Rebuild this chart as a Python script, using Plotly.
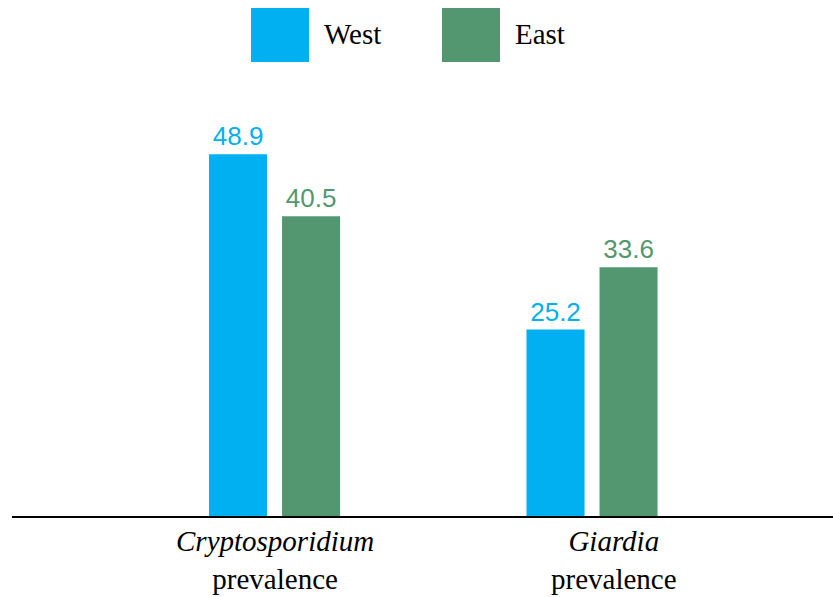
import plotly.graph_objects as go

categories = ["Cryptosporidium", "Giardia"]
cat_labels = ["<i>Cryptosporidium</i><br>prevalence", "<i>Giardia</i><br>prevalence"]
series_names = ["West", "East"]
west = [48.9, 25.2]
east = [40.5, 33.6]
colors = ["#00B0F0", "#52976F"]

SERIF = "'Liberation Serif', 'Times New Roman', 'DejaVu Serif', serif"
SANS = "'Liberation Sans', Arial, sans-serif"

W, H = 833, 597
ml, mr, mt, mb = 12, 0, 60, 81
pw, ph = W - ml - mr, H - mt - mb

xs = list(range(len(categories)))
fig = go.Figure()
for name, vals, col in zip(series_names, [west, east], colors):
    fig.add_trace(go.Bar(
        x=xs, y=vals, name=name, marker=dict(color=col, line=dict(width=0)),
        texttemplate="%{y:.1f}", textposition="outside",
        textfont=dict(family=SANS, size=26, color=col),
        cliponaxis=False, showlegend=False,
    ))

def px_x(p):
    return (p - ml) / pw

def px_y(p):
    return (H - mb - p) / ph

# custom legend (large swatches)
legend_x = [251, 442]
shapes, annotations = [], []
for name, col, lx in zip(series_names, colors, legend_x):
    shapes.append(dict(type="rect", xref="paper", yref="paper",
                       x0=px_x(lx), x1=px_x(lx + 58), y0=px_y(62), y1=px_y(8),
                       fillcolor=col, line=dict(width=0)))
    annotations.append(dict(xref="paper", yref="paper", x=px_x(lx + 71), y=px_y(34),
                            xanchor="left", yanchor="middle", showarrow=False, text=name,
                            font=dict(family=SERIF, size=29, color="black")))

label_offsets = [0.0, 0.07]
for i, (lab, off) in enumerate(zip(cat_labels, label_offsets)):
    annotations.append(dict(xref="x", yref="paper", x=i + off, y=0, yanchor="top", yshift=-7,
                            showarrow=False, text=lab, align="center",
                            font=dict(family=SERIF, size=29, color="black")))

fig.update_layout(
    width=W, height=H, margin=dict(l=ml, r=mr, t=mt, b=mb),
    paper_bgcolor="white", plot_bgcolor="white",
    barmode="group", bargap=0.54, bargroupgap=0.205,
    shapes=shapes, annotations=annotations,
    xaxis=dict(range=[-0.827, 1.759], showline=True, linecolor="black", linewidth=2,
               showticklabels=False, ticks="", showgrid=False, zeroline=False),
    yaxis=dict(range=[0, ph / 7.4], visible=False, showgrid=False, zeroline=False),
)
fig.write_html("out.html")
